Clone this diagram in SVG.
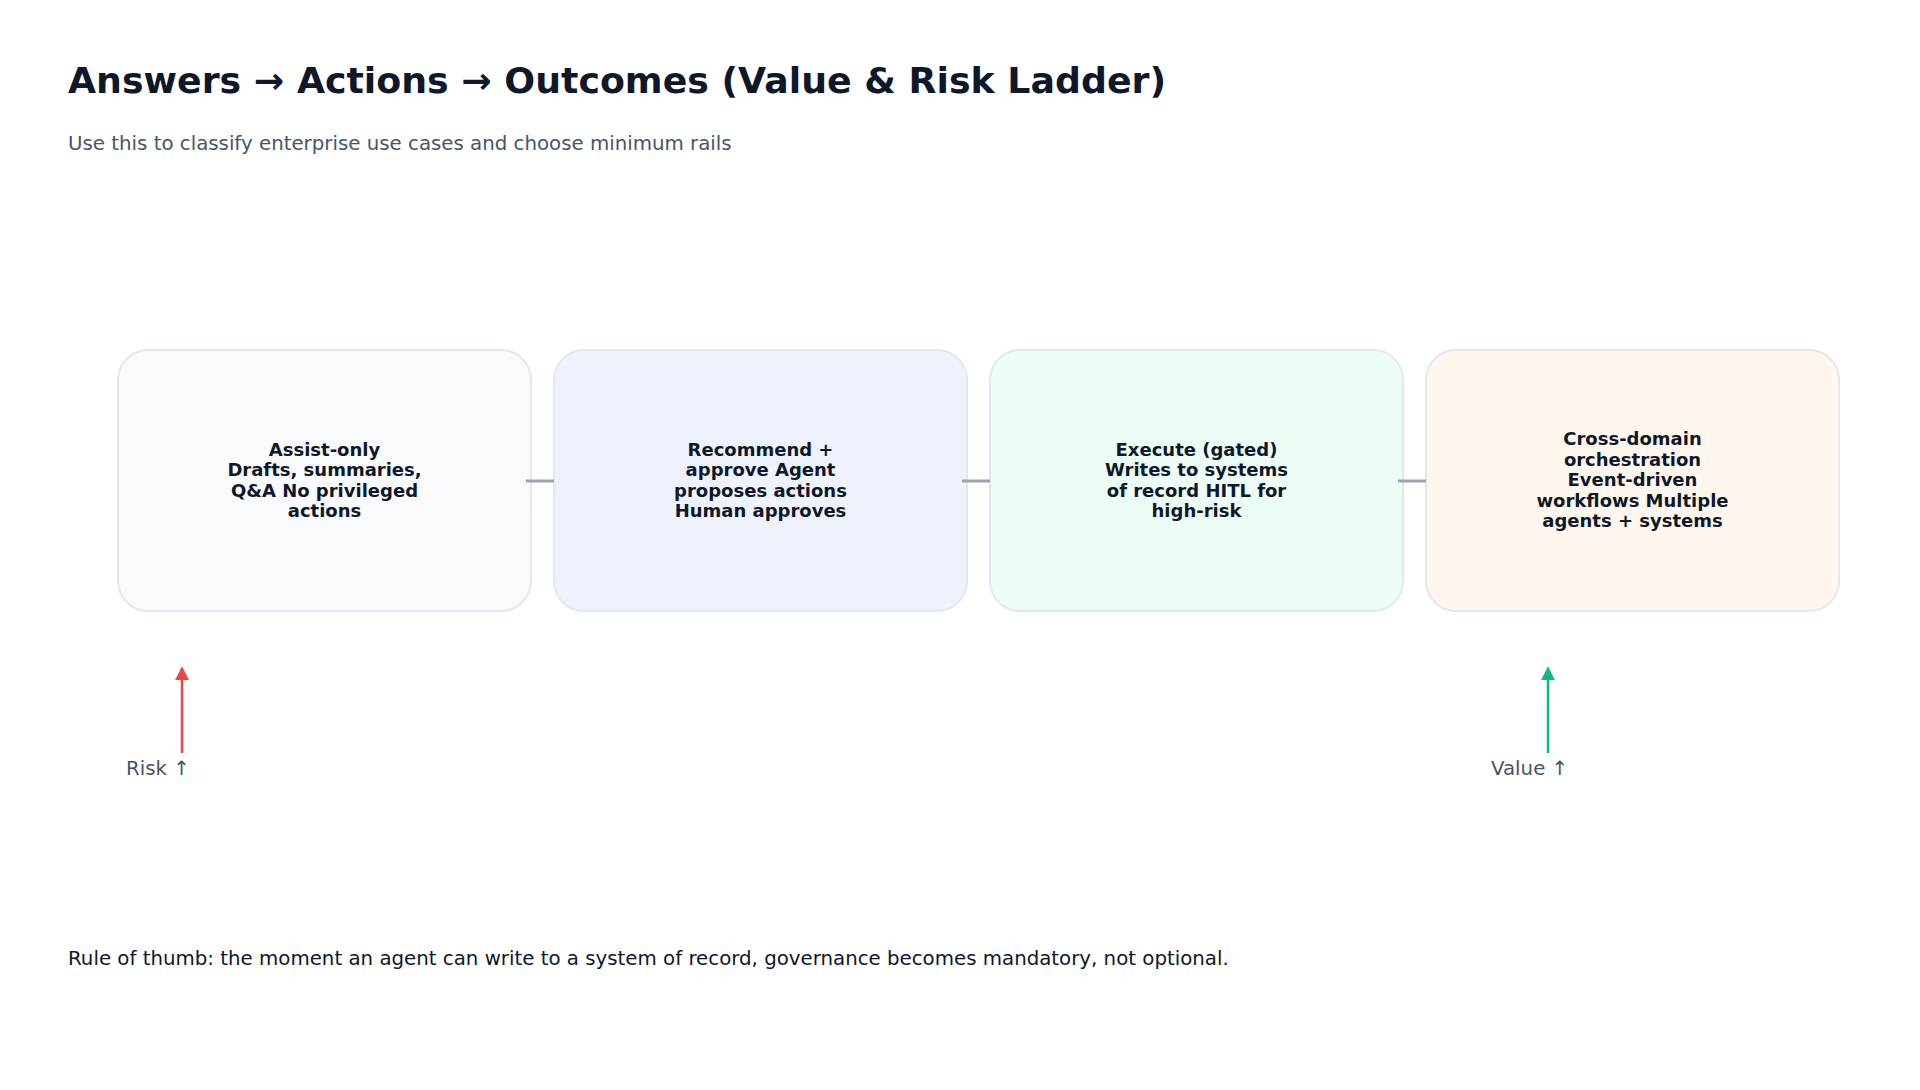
<svg xmlns="http://www.w3.org/2000/svg" width="1920" height="1090" viewBox="0 0 1920 1090">
<defs>
<style>
.title{font-family:"DejaVu Sans",sans-serif;font-weight:bold;font-size:36.3px;fill:#0f172a}
.sub{font-family:"DejaVu Sans",sans-serif;font-size:19.8px;fill:#475569}
.foot{font-family:"DejaVu Sans",sans-serif;font-size:19.8px;fill:#0f172a}
.lbl{font-family:"DejaVu Sans",sans-serif;font-size:19.8px;fill:#475569}
.box{stroke:#e2e8f0;stroke-width:2}
.nt{font-family:"DejaVu Sans",sans-serif;font-weight:bold;font-size:18px;fill:#0f172a;text-anchor:middle}
.conn{stroke:#9ca3af;stroke-width:3;fill:none}
</style>
<marker id="ahR" viewBox="0 0 10 10" refX="8" refY="5" markerWidth="5.6" markerHeight="5.6" orient="auto"><path d="M0,0 L10,5 L0,10 z" fill="#ef4444"/></marker>
<marker id="ahG" viewBox="0 0 10 10" refX="8" refY="5" markerWidth="5.6" markerHeight="5.6" orient="auto"><path d="M0,0 L10,5 L0,10 z" fill="#10b981"/></marker>
</defs>
<rect width="1920" height="1090" fill="#ffffff"/>
<text class="title" x="68" y="93">Answers → Actions → Outcomes (Value &amp; Risk Ladder)</text>
<text class="sub" x="68" y="149.5">Use this to classify enterprise use cases and choose minimum rails</text>

<g id="node-assist">
<rect class="box" x="118" y="350" width="413" height="261" rx="30" fill="#f8fafc"/>
<text class="nt" x="324.5" y="455.5">Assist-only</text>
<text class="nt" x="324.5" y="476">Drafts, summaries,</text>
<text class="nt" x="324.5" y="496.5">Q&amp;A No privileged</text>
<text class="nt" x="324.5" y="517">actions</text>
</g>
<g id="node-recommend">
<rect class="box" x="554" y="350" width="413" height="261" rx="30" fill="#eef2fd"/>
<text class="nt" x="760.5" y="455.5">Recommend +</text>
<text class="nt" x="760.5" y="476">approve Agent</text>
<text class="nt" x="760.5" y="496.5">proposes actions</text>
<text class="nt" x="760.5" y="517">Human approves</text>
</g>
<g id="node-execute">
<rect class="box" x="990" y="350" width="413" height="261" rx="30" fill="#ecfdf5"/>
<text class="nt" x="1196.5" y="455.5">Execute (gated)</text>
<text class="nt" x="1196.5" y="476">Writes to systems</text>
<text class="nt" x="1196.5" y="496.5">of record HITL for</text>
<text class="nt" x="1196.5" y="517">high-risk</text>
</g>
<g id="node-cross">
<rect class="box" x="1426" y="350" width="413" height="261" rx="30" fill="#fff7ed"/>
<text class="nt" x="1632.5" y="445">Cross-domain</text>
<text class="nt" x="1632.5" y="465.5">orchestration</text>
<text class="nt" x="1632.5" y="486">Event-driven</text>
<text class="nt" x="1632.5" y="506.5">workflows Multiple</text>
<text class="nt" x="1632.5" y="527">agents + systems</text>
</g>

<g id="connectors">
<line class="conn" x1="526" y1="481" x2="554" y2="481"/>
<line class="conn" x1="962" y1="481" x2="990" y2="481"/>
<line class="conn" x1="1398" y1="481" x2="1426" y2="481"/>
</g>

<g id="risk-axis">
<line x1="182" y1="753" x2="182" y2="669" stroke="#ef4444" stroke-width="2.5" marker-end="url(#ahR)"/>
<text class="lbl" x="126" y="775">Risk ↑</text>
</g>
<g id="value-axis">
<line x1="1548" y1="753" x2="1548" y2="669" stroke="#10b981" stroke-width="2.5" marker-end="url(#ahG)"/>
<text class="lbl" x="1491" y="775">Value ↑</text>
</g>

<text class="foot" x="68" y="965">Rule of thumb: the moment an agent can write to a system of record, governance becomes mandatory, not optional.</text>
</svg>
